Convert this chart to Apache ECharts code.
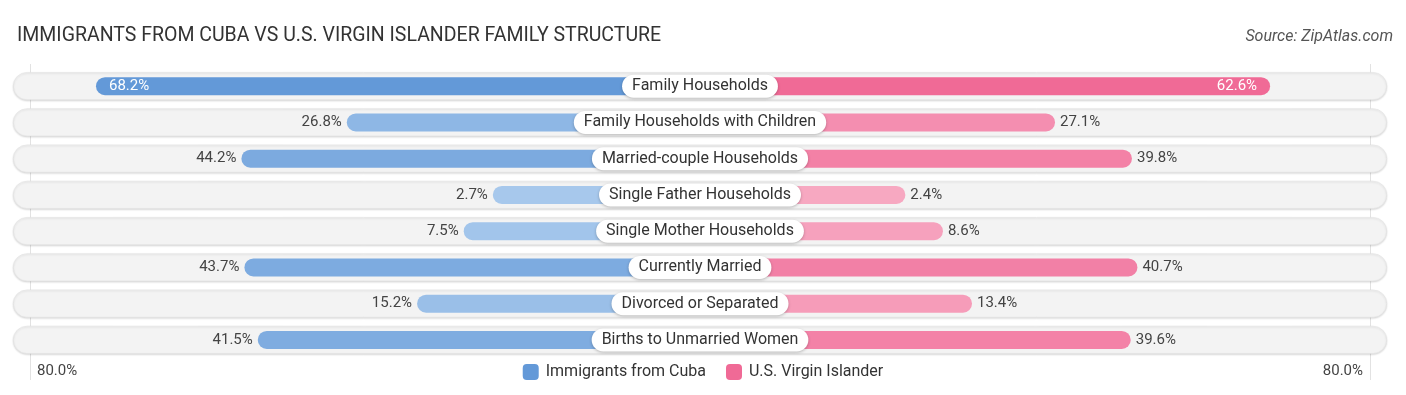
<!DOCTYPE html>
<html>
<head>
<meta charset="utf-8">
<script src="https://cdn.jsdelivr.net/npm/echarts@6/dist/echarts.min.js"></script>
<style>
html,body{margin:0;padding:0;background:#fff;}
#chart{width:1406px;height:395px;}
</style>
</head>
<body>
<div id="chart"></div>
<script>
const CATEGORIES = [
  'Family Households',
  'Family Households with Children',
  'Married-couple Households',
  'Single Father Households',
  'Single Mother Households',
  'Currently Married',
  'Divorced or Separated',
  'Births to Unmarried Women'
];
const CUBA = [68.2, 26.8, 44.2, 2.7, 7.5, 43.7, 15.2, 41.5];
const USVI = [62.6, 27.1, 39.8, 2.4, 8.6, 40.7, 13.4, 39.6];
const SERIES_NAMES = ['Immigrants from Cuba', 'U.S. Virgin Islander'];
const TICK_LABELS = ['80.0%', '80.0%'];

// layout constants (not data)
const OFF = 31.5;    // hidden part of each bar behind the centre label
const HALF = 113.4;  // half-width of the value axis in value units

const BLUE = [99, 153, 216], BLUE_L = [170, 202, 237];
const PINK = [240, 106, 150], PINK_L = [247, 170, 195];
function mix(a, b, t) {
  const c = a.map((x, i) => Math.round(b[i] + (x - b[i]) * t));
  return 'rgb(' + c.join(',') + ')';
}
const maxC = Math.max(...CUBA), maxU = Math.max(...USVI);

const chart = echarts.init(document.getElementById('chart'), null, {renderer: 'canvas'});

const gridBox = {top: 68, bottom: 37, left: 13, right: 19};

const option = {
  animation: false,
  textStyle: {fontFamily: 'Roboto, "Noto Sans", sans-serif'},
  title: [
    {
      text: 'IMMIGRANTS FROM CUBA VS U.S. VIRGIN ISLANDER FAMILY STRUCTURE',
      left: 12, top: 21,
      textStyle: {fontSize: 19.5, fontWeight: 'normal', color: '#333', fontFamily: 'Roboto, sans-serif'}
    },
    {
      text: 'Source: ZipAtlas.com',
      right: 8, top: 24,
      textStyle: {fontSize: 16, fontWeight: 'normal', fontStyle: 'italic', color: '#555', fontFamily: 'Roboto, sans-serif'}
    }
  ],
  legend: {
    data: SERIES_NAMES,
    left: 'center', top: 359,
    itemWidth: 16, itemHeight: 16, itemGap: 20,
    icon: 'roundRect',
    textStyle: {fontSize: 16, color: '#333', padding: [0, 0, 0, 2]}
  },
  grid: [
    Object.assign({}, gridBox),
    Object.assign({}, gridBox),
    {top: 64, bottom: 15, left: 30, right: 36}
  ],
  xAxis: [
    {gridIndex: 0, type: 'value', min: 0, max: 1, show: false},
    {gridIndex: 1, type: 'value', min: -HALF, max: HALF, show: false},
    {
      gridIndex: 2, type: 'value', min: 0, max: 1, interval: 1,
      axisLine: {show: false}, axisTick: {show: false},
      splitLine: {show: true, lineStyle: {color: '#e2e2e2', width: 1}},
      axisLabel: {
        inside: true, margin: 1, verticalAlign: 'bottom',
        fontSize: 15, color: '#444',
        alignMinLabel: 'left', alignMaxLabel: 'right',
        padding: [0, 7, 0, 7],
        formatter: (v, i) => TICK_LABELS[i] || ''
      }
    }
  ],
  yAxis: [
    {gridIndex: 0, type: 'category', data: CATEGORIES, inverse: true, show: false},
    {gridIndex: 1, type: 'category', data: CATEGORIES, inverse: true, show: false},
    {gridIndex: 2, type: 'value', show: false}
  ],
  series: [
    {
      name: 'bg', type: 'bar', xAxisIndex: 0, yAxisIndex: 0,
      data: CATEGORIES.map(() => 1),
      barWidth: 28, silent: true, z: 1,
      itemStyle: {
        color: '#f3f3f3', borderRadius: 14,
        borderColor: '#e2e2e2', borderWidth: 0.6,
        shadowBlur: 2, shadowColor: 'rgba(0,0,0,0.15)', shadowOffsetY: 1
      }
    },
    {
      name: SERIES_NAMES[0], type: 'bar', xAxisIndex: 1, yAxisIndex: 1,
      barWidth: 18, barGap: '-100%', z: 3,
      itemStyle: {color: mix(BLUE, BLUE_L, 1), borderRadius: 9},
      data: CUBA.map(v => ({
        value: -(v + OFF),
        itemStyle: {color: mix(BLUE, BLUE_L, v / maxC)},
        label: v > 60
          ? {position: 'insideLeft', color: '#fff', distance: 13}
          : {position: 'left', color: '#444', distance: 5}
      })),
      label: {
        show: true, fontSize: 15,
        formatter: p => CUBA[p.dataIndex].toFixed(1) + '%'
      }
    },
    {
      name: SERIES_NAMES[1], type: 'bar', xAxisIndex: 1, yAxisIndex: 1,
      barWidth: 18, barGap: '-100%', z: 3,
      itemStyle: {color: mix(PINK, PINK_L, 1), borderRadius: 9},
      data: USVI.map(v => ({
        value: v + OFF,
        itemStyle: {color: mix(PINK, PINK_L, v / maxU)},
        label: v > 60
          ? {position: 'insideRight', color: '#fff', distance: 13}
          : {position: 'right', color: '#444', distance: 5}
      })),
      label: {
        show: true, fontSize: 15,
        formatter: p => USVI[p.dataIndex].toFixed(1) + '%'
      }
    },
    {
      name: 'labels', type: 'scatter', xAxisIndex: 1, yAxisIndex: 1,
      symbol: 'circle', symbolSize: 1, silent: true, z: 10,
      itemStyle: {color: '#ffffff', opacity: 1},
      emphasis: {disabled: true},
      data: CATEGORIES.map((c, i) => [0, c]),
      label: {
        show: true, position: 'inside', opacity: 1,
        formatter: p => CATEGORIES[p.dataIndex],
        fontSize: 16, color: '#333',
        backgroundColor: '#ffffff', borderRadius: 12,
        padding: [4, 10, 3, 10],
        shadowBlur: 3, shadowColor: 'rgba(0,0,0,0.25)', shadowOffsetY: 1
      }
    }
  ]
};
chart.setOption(option);
</script>
</body>
</html>
